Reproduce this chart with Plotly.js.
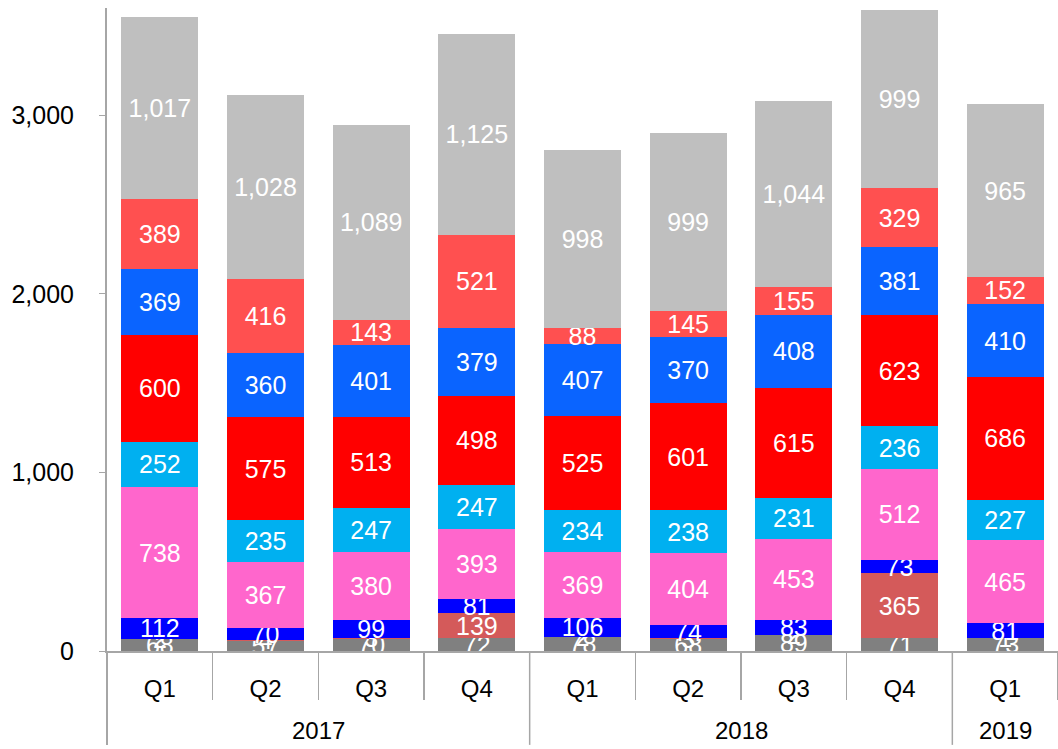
<!DOCTYPE html>
<html><head><meta charset="utf-8">
<script src="https://cdn.plot.ly/plotly-3.0.1.min.js"></script>
<style>body{margin:0;background:#fff}#c{width:1058px;height:749px}</style>
</head><body><div id="c"></div>
<script>
const years = ["2017","2017","2017","2017","2018","2018","2018","2018","2019"];
const quarters = ["Q1","Q2","Q3","Q4","Q1","Q2","Q3","Q4","Q1"];
const s1 = [68,57,70,72,78,68,89,71,73];
const s2 = [2,4,3,139,2,3,2,365,1];
const s3 = [112,70,99,81,106,74,83,73,81];
const s4 = [738,367,380,393,369,404,453,512,465];
const s5 = [252,235,247,247,234,238,231,236,227];
const s6 = [600,575,513,498,525,601,615,623,686];
const s7 = [369,360,401,379,407,370,408,381,410];
const s8 = [389,416,143,521,88,145,155,329,152];
const s9 = [1017,1028,1089,1125,998,999,1044,999,965];
const series = [s1,s2,s3,s4,s5,s6,s7,s8,s9];
const colors = ["#808080","#d45a5a","#0000ff","#ff66cc","#00b0f0","#ff0000","#0a64ff","#ff5050","#bfbfbf"];

const keys = years.map((y,i)=>y+" "+quarters[i]);

const traces = series.map((v,i)=>({
  type:'bar', x:keys, y:v,
  marker:{color:colors[i], line:{width:0}},
  texttemplate:'%{y:,}', textposition:'inside', insidetextanchor:'middle', textangle:0,
  textfont:{color:'#ffffff', size:25, family:'Liberation Sans, Arial, sans-serif'},
  constraintext:'none', hoverinfo:'skip', showlegend:false
}));

// year groups
const groups = [];
years.forEach((y,i)=>{
  const g = groups[groups.length-1];
  if (g && g.year===y) g.end=i; else groups.push({year:y,start:i,end:i});
});
const gray = '#a6a6a6';
const shapes = [{type:'line', xref:'paper', yref:'paper', x0:0, x1:0, y0:-0.146, y1:0,
    line:{color:gray, width:2}}];
groups.slice(0,-1).forEach(g=>shapes.push({type:'line', xref:'x', yref:'paper',
    x0:g.end+0.5, x1:g.end+0.5, y0:-0.146, y1:0, line:{color:gray, width:1.5}}));
const annotations = groups.map(g=>({xref:'x', yref:'paper', x:(g.start+g.end)/2, y:-0.123,
    text:g.year, showarrow:false, yanchor:'middle', xanchor:'center',
    font:{size:24, color:'#000'}}));

Plotly.newPlot('c', traces, {
  barmode:'stack', bargap:0.27,
  width:1058, height:749,
  margin:{l:107, r:0, t:8, b:98},
  paper_bgcolor:'#fff', plot_bgcolor:'#fff',
  uniformtext:{minsize:25, mode:'show'},
  font:{family:'Liberation Sans, Arial, sans-serif', color:'#000'},
  xaxis:{type:'category', showgrid:false, zeroline:false,
    tickvals:keys, ticktext:quarters,
    showline:true, linecolor:gray, linewidth:2,
    ticks:'outside', tickson:'boundaries', ticklen:47, tickcolor:gray, tickwidth:1.5,
    ticklabelstandoff:15,
    tickfont:{size:24, color:'#000'}},
  yaxis:{range:[0,3600], tickvals:[0,1000,2000,3000], tickformat:',',
    showgrid:false, zeroline:false, showline:true, linecolor:gray, linewidth:2,
    ticks:'outside', ticklen:6, tickcolor:gray, ticklabelstandoff:20,
    tickfont:{size:25, color:'#000'}},
  shapes:shapes, annotations:annotations
}, {staticPlot:true});
</script></body></html>
